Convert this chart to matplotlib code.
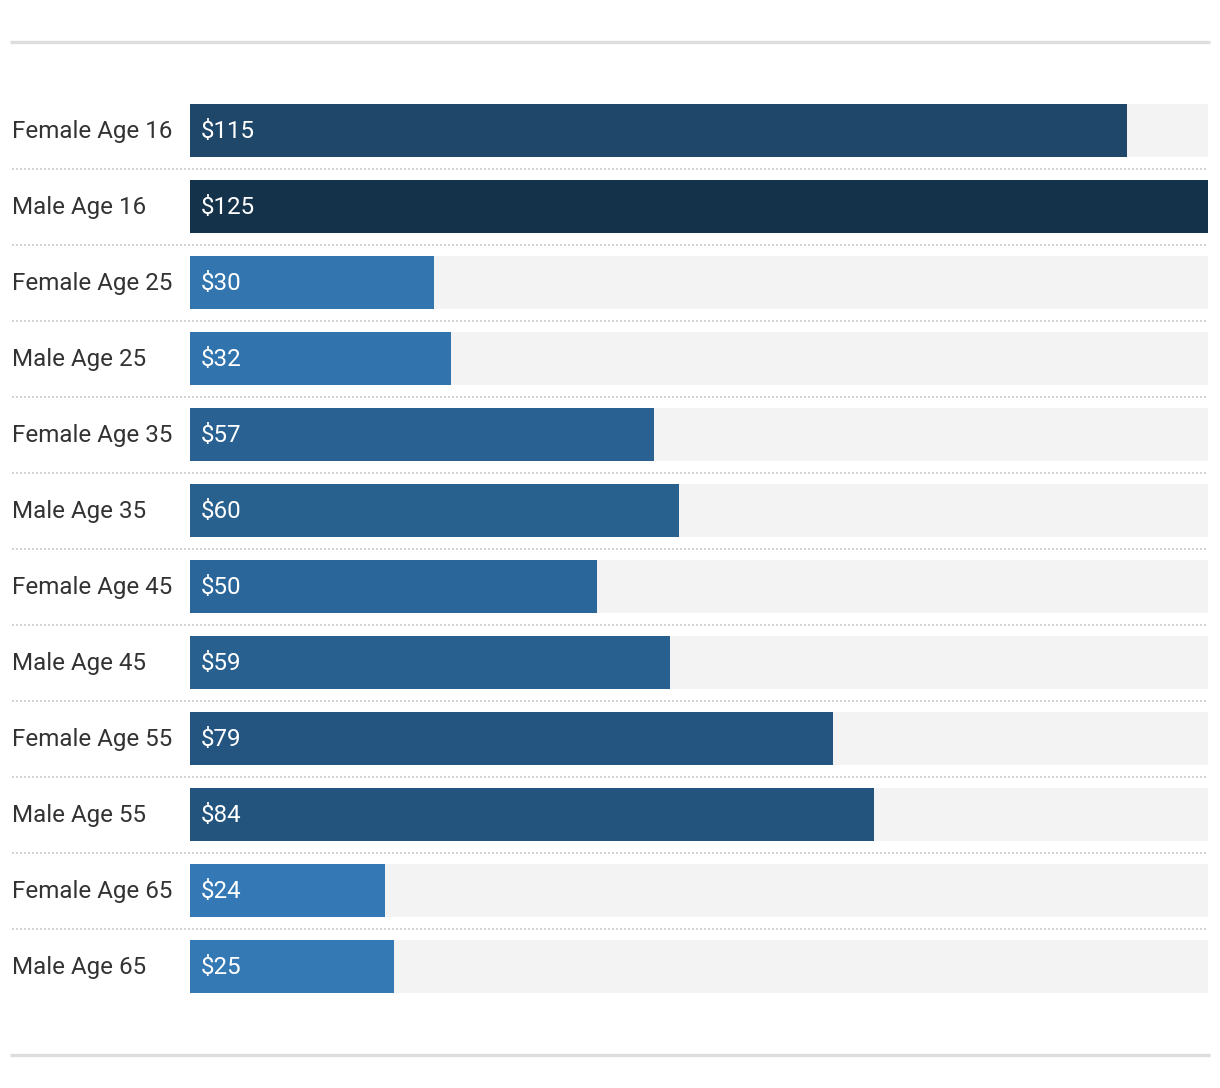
import matplotlib
matplotlib.use("Agg")
import matplotlib.pyplot as plt
import matplotlib.transforms as mtransforms
from matplotlib.colors import LinearSegmentedColormap, Normalize
from matplotlib.lines import Line2D

categories = ["Female Age 16", "Male Age 16", "Female Age 25", "Male Age 25",
              "Female Age 35", "Male Age 35", "Female Age 45", "Male Age 45",
              "Female Age 55", "Male Age 55", "Female Age 65", "Male Age 65"]
values = [115, 125, 30, 32, 57, 60, 50, 59, 79, 84, 24, 25]
value_labels = ["$115", "$125", "$30", "$32", "$57", "$60", "$50", "$59",
                "$79", "$84", "$24", "$25"]
x_max = 125

plt.rcParams['font.family'] = ['Roboto', 'DejaVu Sans']

W, H = 1220, 1088
fig = plt.figure(figsize=(W / 100, H / 100), dpi=100)

cmap = LinearSegmentedColormap.from_list(
    "blues", [(0.0, "#3479b5"), (0.26, "#2a6699"), (0.35, "#28608f"),
              (0.55, "#235580"), (0.8, "#224f75"), (0.91, "#1f4668"), (1.0, "#15324b")])
norm = Normalize(vmin=min(values), vmax=max(values))

left, right = 190 / W, 1208 / W
top_px, bot_px = 92.5, 1004.5
ax = fig.add_axes([left, 1 - bot_px / H, right - left, (bot_px - top_px) / H])
n = len(categories)
ypos = list(range(n))
ax.barh(ypos, [x_max] * n, height=0.71, color="#f3f3f3", linewidth=0)
ax.barh(ypos, values, height=0.71, color=[cmap(norm(v)) for v in values], linewidth=0)
ax.set_xlim(0, x_max)
ax.set_ylim(n - 0.5, -0.5)
ax.axis("off")

trans = mtransforms.blended_transform_factory(fig.transFigure, ax.transData)
for i, (cat, lab) in enumerate(zip(categories, value_labels)):
    ax.text(12 / W, i + 0.01, cat, transform=trans, ha="left", va="center",
            fontsize=17.4, color="#333333")
    ax.text(201 / W, i + 0.01, lab, transform=trans, ha="left", va="center",
            fontsize=17.4, color="white")

for i in range(n - 1):
    ln = Line2D([12 / W, 1208 / W], [i + 0.5, i + 0.5], transform=trans,
                color="#cccccc", linewidth=1.2, linestyle=(0, (1.2, 1.2)), clip_on=False)
    fig.add_artist(ln)

for ypx in (42, 1055):
    fig.add_artist(Line2D([10 / W, 1210 / W], [1 - ypx / H, 1 - ypx / H],
                          transform=fig.transFigure, color="#dddddd", linewidth=2.4,
                          solid_capstyle="butt"))

fig.savefig("out.png", dpi=100, facecolor="white")
